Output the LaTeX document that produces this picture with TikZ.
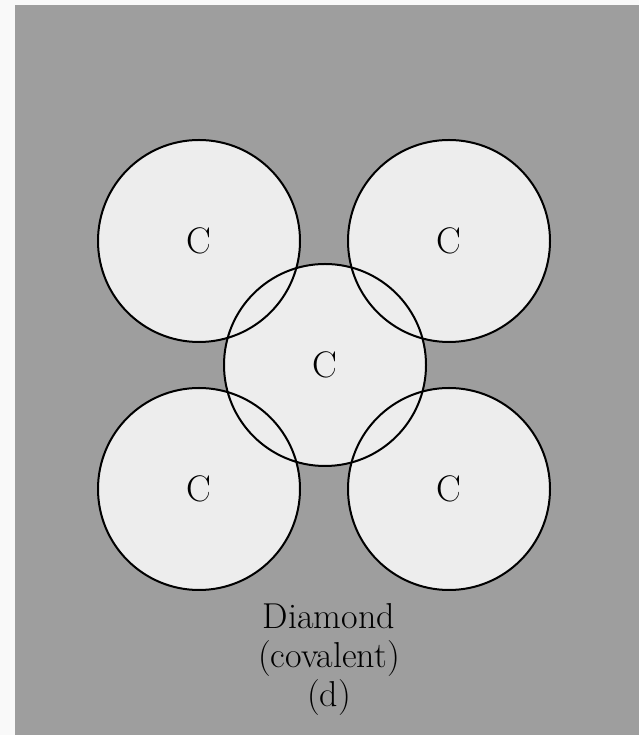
\documentclass[tikz,border=0pt]{standalone}
\begin{document}
\begin{tikzpicture}[x=1pt,y=1pt,
  atom/.style={circle,minimum size=202pt,inner sep=0pt,fill=atomfill,font=\fontsize{37}{39}\selectfont},
  rim/.style={draw=black,line width=2pt},
  caption/.style={align=center,inner sep=0pt,font=\fontsize{36}{39}\selectfont}]
\definecolor{bgpanel}{gray}{0.62}
\definecolor{atomfill}{gray}{0.93}
\useasboundingbox (0,0) rectangle (639,735);
\fill[white!95!gray] (0,0) rectangle (639,735);
\fill[bgpanel] (15,0) rectangle (639,730);
\node[atom] (tl) at (199,494) {C};
\node[atom] (tr) at (449,494) {C};
\node[atom] (bl) at (199,246) {C};
\node[atom] (br) at (449,246) {C};
\node[atom] (c) at (325,370) {C};
\foreach \n in {tl,tr,bl,br,c}
  \draw[rim] (\n.center) circle[radius=101pt];
\node[caption,anchor=north] (cap) at (329,132) {Diamond\\(covalent)\\(d)};
\end{tikzpicture}
\end{document}
